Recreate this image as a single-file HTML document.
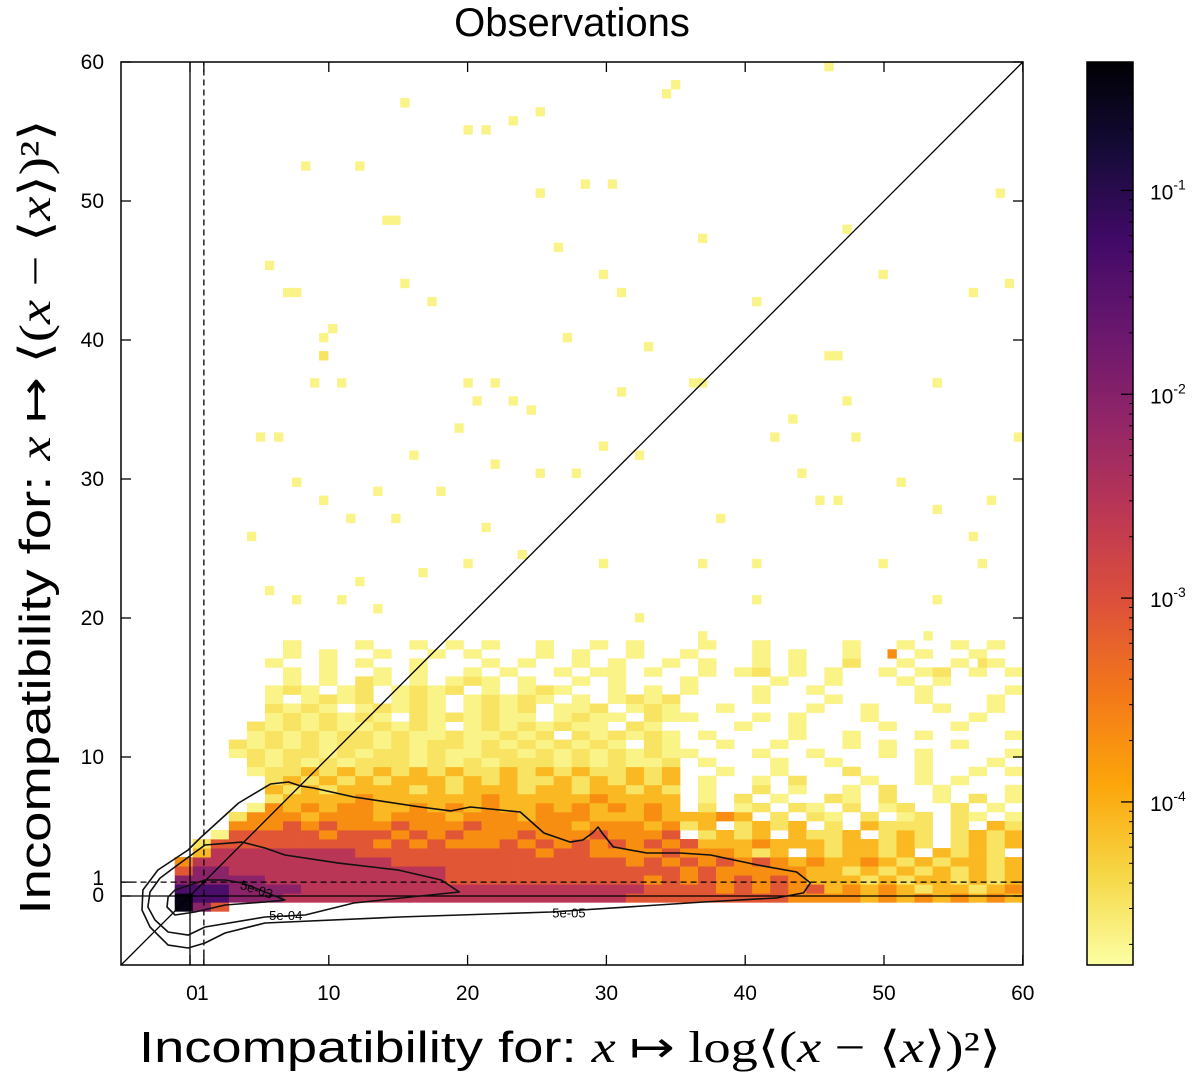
<!DOCTYPE html>
<html><head><meta charset="utf-8"><style>
html,body{margin:0;padding:0;background:#fff}
svg{display:block;font-family:"Liberation Sans",sans-serif}
</style></head><body>
<svg id="chart" width="1200" height="1078" viewBox="0 0 1200 1078" xmlns="http://www.w3.org/2000/svg">
<defs>
<linearGradient id="cbgrad" x1="0" y1="1" x2="0" y2="0"></linearGradient>
<clipPath id="plotclip"><rect x="121" y="62" width="902" height="903"/></clipPath>
</defs>
<text x="572" y="36" font-size="40" text-anchor="middle">Observations</text>
<g id="cells" clip-path="url(#plotclip)"></g>
<g id="refs" clip-path="url(#plotclip)"></g>
<g id="contours" clip-path="url(#plotclip)"></g>
<rect x="121" y="62" width="902" height="903" fill="none" stroke="#000" stroke-width="1.5"/>
<g id="ticks"></g>
<text x="570" y="1062" font-size="44" text-anchor="middle" textLength="862" lengthAdjust="spacingAndGlyphs">Incompatibility for: <tspan font-family="Liberation Serif" font-style="italic">x</tspan><tspan font-family="Liberation Serif"> ↦ log⟨(</tspan><tspan font-family="Liberation Serif" font-style="italic">x</tspan><tspan font-family="Liberation Serif"> − ⟨</tspan><tspan font-family="Liberation Serif" font-style="italic">x</tspan><tspan font-family="Liberation Serif">⟩)²⟩</tspan></text>
<text transform="translate(50,517) rotate(-90)" font-size="44" text-anchor="middle" textLength="795" lengthAdjust="spacingAndGlyphs">Incompatibility for: <tspan font-family="Liberation Serif" font-style="italic">x</tspan><tspan font-family="Liberation Serif"> ↦ ⟨(</tspan><tspan font-family="Liberation Serif" font-style="italic">x</tspan><tspan font-family="Liberation Serif"> − ⟨</tspan><tspan font-family="Liberation Serif" font-style="italic">x</tspan><tspan font-family="Liberation Serif">⟩)²⟩</tspan></text>
<rect x="1087" y="62" width="46" height="903" fill="url(#cbgrad)" stroke="#000" stroke-width="1.5"/>
<g id="cbticks"></g>
</svg>
<script>
// ---- data ----
const rowStart = 6; // first bin row index (bins of 0.65 in y starting at -5)
const densityRows = [
"...975",
"...988777666666666666666666655555555544443434343434",
"...888777766666666666666666665555454545343432332343",
"...777776666666666555555555554545454543332323323233",
"...577666666666666555555555555545444443323232323232",
"...466666666666555555555555545454545434334323233233",
"....366666666555555555545544445444323.323323.3232",
"....25555555554545444545454545453334333233232.23232",
".....15555545554545444544454445 2323.3223.232.23232",
"......444545444544454444434443423.2323.2.3222.2.32",
"......24443444344434443444333433343 2.21.2.12.21.12",
".......143434433434343343434343 2.12.21.2.12..2.1.2",
"........23333433333343333343333 1.2.1..21.2..1.2.1.",
"........32323333232333233233232.1..2.1..1.2..1...1",
"........23232323332323223232323 1..1.2...1..1.1....",
".......122323232323223232322323..1..1...2...1..1.1",
".......212121222121212221212112.1...1..1....1...1.",
"......12122121221211221212121211...1..1...1.1....1",
"......2121212212122121212121.21..1..1...1.1...1...",
".......12121221211211212.212121.1....1..1...1....1",
".......21212112121.12121211.21....1..1....1...1...",
"........1212121.2121211.1211.211...1.1...1.....1..",
"........2121.12121.1212.112.121..1....1..1...1..1.",
"........1.1212.121.12121.1.1212....1...1....1...1.",
"........121.12.1212.1.121..1.1.1...1..1.....1....1",
".........1.1.21.1.121.1..1.1...1....1..1...1.1....",
".........1.1..1.1..1.1..1.11.1..1.12.1.1..1.12.1.1",
"........1..1.1..1...1.1..1.1..1.1..1.1..2..1..1.1",
".........1.1..1..1.1...1.1..1..1...1.1..1...1..1.",
".........1...1..1.1.1..1..1.1...1..1....1..1..1.1."
];
const levelLog = [-4.67,-4.49,-4.09,-3.69,-3.1,-2.55,-2.05,-1.35,-0.5];
const ptX = [15.5,20.0,21.5,23.0,25.5,34.0,34.7,30.1,28.6,25.5,14.0,15.0,5.8,6.7,7.9,9.5,9.7,9.0,6.1,5.2,19.9,21.7,23.0,20.9,24.5,30.9,36.3,37.2,45.8,46.5,48.1,49.6,56.3,58.3,47.5,46.0,43.9,46.8,51.1,54.0,56.1,57.6,59.4,41.0,36.7,29.5,23.7,20.1,16.5,12.2,7.9,10.8,13.7,25.5,27.7,22.0,15.8,7.9,9.4,11.5,4.7,5.6,21.6,32.4,36.7,41.0,50.4,53.2,56.8,30.9,33.1,29.9,32.4,42.4,45.3,49.6,54.0,38.1,15.1,19.1,27.3,26.6,17.3,29.5,36.7,41.0,43.2,47.5,54.0,59.0,15.5,11.2,13.7,18.0,57.2,8.6,12.2,10.0];
const ptY = [57.1,55.3,55.3,55.7,56.3,57.4,58.3,51.2,51.2,50.6,48.6,48.6,45.2,43.4,43.4,40.0,38.8,36.9,32.9,32.9,37.1,37.1,35.7,35.7,34.7,36.0,37.1,37.1,38.8,38.8,32.8,45.0,43.4,50.4,48.1,59.8,30.1,28.7,29.9,27.8,25.6,28.5,32.8,24.2,24.2,24.2,24.5,23.8,23.1,22.7,21.3,21.3,20.9,30.3,30.6,31.4,31.7,29.6,28.5,27.1,25.6,22.0,26.3,19.9,18.4,21.3,17.7,18.4,17.0,43.6,39.3,32.4,31.7,32.8,28.5,24.2,21.3,27.1,27.1,33.5,40.4,46.5,42.9,45.0,47.2,42.9,34.2,35.7,37.1,44.3,44.0,37.1,29.2,29.2,24.2,52.6,52.6,40.6];
const ptLevel = [1,1,1,1,1,1,1,1,1,1,1,1,1,1,1,1,2,1,1,1,1,1,1,1,1,1,1,1,1,1,1,1,1,1,1,1,1,1,1,1,1,1,1,1,1,1,1,1,1,1,1,1,1,1,1,1,1,1,1,1,1,1,1,1,1,1,4,1,2,1,1,1,1,1,1,1,1,1,1,1,1,1,1,1,1,1,1,1,1,1,1,1,1,1,1,1,1,1];
const contourLevels = ["5e-05","5e-04","5e-03"];
const contour05X = [-0.14,-2.31,-3.39,-3.46,-2.88,-1.58,-0.14,1.08,2.52,5.40,15.1,26.0,37.0,42.3,44.2,44.7,43.7,40.9,37.5,35.3,32.9,30.5,29.7,29.4,29.0,28.3,27.4,25.5,23.8,20.2,18.8,16.6,11.8,8.9,8.0,7.1,5.8,3.5,0.8];
const contour05Y = [3.31,1.87,0.43,-1.01,-2.23,-3.53,-3.74,-3.38,-2.66,-1.94,-1.51,-1.15,-0.43,-0.14,0.22,0.94,1.73,2.23,2.95,3.09,3.09,3.53,4.53,4.96,4.53,4.03,3.88,4.53,6.04,6.40,6.12,6.40,7.12,7.77,7.91,8.20,8.06,6.69,4.24];
const contour04X = [-1.08,1.08,3.75,5.40,6.84,10.7,15.0,18.1,19.4,15.9,11.8,8.3,5.4,1.08,-0.14,-1.58,-2.52,-3.03,-2.88,-2.16];
const contour04Y = [2.09,3.67,3.88,3.45,2.95,2.37,1.87,1.15,0.29,-0.07,-0.50,-1.37,-1.51,-2.23,-2.81,-2.59,-1.73,-0.79,0.29,1.29];
const contour03X = [-1.08,1.08,2.52,3.75,5.04,6.84,5.40,2.52,0.36,-1.08,-1.66,-1.58];
const contour03Y = [0.43,1.15,1.15,0.94,0.43,-0.29,-0.43,-0.65,-1.15,-1.37,-0.79,-0.07];
const xTickVals = [0,1,10,20,30,40,50,60];
const xTickLabels = ["0","1","10","20","30","40","50","60"];
const yTickVals = [0,1,10,20,30,40,50,60];
const yTickLabels = ["0","1","10","20","30","40","50","60"];
const cbTickExp = [-1,-2,-3,-4];
const cbLogMin = -4.8, cbLogMax = -0.37;

// ---- scales ----
const NS = "http://www.w3.org/2000/svg";
const sx = x => 190 + 13.88 * x;
const sy = y => 896 - 13.9 * y;
const cbY = l => 965 - (l - cbLogMin) / (cbLogMax - cbLogMin) * 903;
const inf = [[0,0,0,4],[0.1,22,11,57],[0.2,66,10,104],[0.3,106,23,110],[0.4,147,38,103],[0.5,188,55,84],[0.6,221,81,58],[0.7,243,120,25],[0.8,252,165,10],[0.9,246,215,70],[1,252,255,164]];
function inferno(t){t=Math.max(0,Math.min(1,t));for(let i=1;i<inf.length;i++){if(t<=inf[i][0]){const a=inf[i-1],b=inf[i],f=(t-a[0])/(b[0]-a[0]);return `rgb(${Math.round(a[1]+f*(b[1]-a[1]))},${Math.round(a[2]+f*(b[2]-a[2]))},${Math.round(a[3]+f*(b[3]-a[3]))})`;}}return "rgb(252,255,164)";}
const colorForLog = l => inferno(1 - (l - cbLogMin) / (cbLogMax - cbLogMin));
function mk(tag, attrs, parent){const e=document.createElementNS(NS,tag);for(const k in attrs)e.setAttribute(k,attrs[k]);parent.appendChild(e);return e;}

const grad = document.getElementById('cbgrad');
for(let i=0;i<=20;i++){mk('stop',{offset:(i/20),'stop-color':inferno(1-i/20)},grad);}

const cells = document.getElementById('cells');
densityRows.forEach((row, r) => {
  const j = rowStart + r;
  for(let k=0;k<row.length;k++){
    const c=row[k]; if(c<'1'||c>'9') continue;
    const lv=levelLog[+c-1];
    const x0=-5+1.3*k, y0=-5+0.65*j;
    const rc=mk('rect',{x:sx(x0).toFixed(2),y:sy(y0+0.65).toFixed(2),width:(sx(x0+1.3)-sx(x0)+0.4).toFixed(2),height:(sy(y0)-sy(y0+0.65)+0.4).toFixed(2),fill:colorForLog(lv)},cells);
    
    
  }
});
ptX.forEach((x,i)=>{
  const bx=-5+0.65*Math.floor((x+5)/0.65), by=-5+0.65*Math.floor((ptY[i]+5)/0.65);
  const rc=mk('rect',{x:sx(bx).toFixed(2),y:sy(by+0.65).toFixed(2),width:(sx(bx+0.65)-sx(bx)+0.3).toFixed(2),height:(sy(by)-sy(by+0.65)+0.3).toFixed(2),fill:colorForLog(levelLog[ptLevel[i]-1])},cells);
  
  
});

const refs=document.getElementById('refs');
let ln;
ln=mk('line',{x1:sx(-5),y1:sy(-5),x2:sx(60),y2:sy(60),stroke:'#000','stroke-width':1.3},refs);


ln=mk('line',{x1:sx(0),y1:sy(-5),x2:sx(0),y2:sy(60),stroke:'#000','stroke-width':1.3},refs);


ln=mk('line',{x1:sx(1),y1:sy(-5),x2:sx(1),y2:sy(60),stroke:'#000','stroke-width':1.3,'stroke-dasharray':'6,4'},refs);


ln=mk('line',{x1:sx(-5),y1:sy(0),x2:sx(60),y2:sy(0),stroke:'#000','stroke-width':1.3},refs);


ln=mk('line',{x1:sx(-5),y1:sy(1),x2:sx(60),y2:sy(1),stroke:'#000','stroke-width':1.3,'stroke-dasharray':'6,4'},refs);



const cg=document.getElementById('contours');
[[contour05X,contour05Y],[contour04X,contour04Y],[contour03X,contour03Y]].forEach((c,i)=>{
  const d=c[0].map((x,k)=>(k?'L':'M')+sx(x).toFixed(1)+','+sy(c[1][k]).toFixed(1)).join(' ')+' Z';
  const p=mk('path',{d:d,fill:'none',stroke:'#111','stroke-width':1.6,'stroke-linejoin':'round'},cg);
  
  
});
let tl;
tl=mk('text',{x:sx(27.3),y:sy(-1.25)+4,'font-size':13,'text-anchor':'middle'},cg); tl.textContent=contourLevels[0];


tl=mk('text',{x:sx(6.9),y:sy(-1.45)+4,'font-size':13,'text-anchor':'middle'},cg); tl.textContent=contourLevels[1];


tl=mk('text',{x:0,y:0,'font-size':13,'text-anchor':'middle',transform:`translate(${sx(4.7)},${sy(0.45)+4}) rotate(18)`},cg); tl.textContent=contourLevels[2];



const tg=document.getElementById('ticks');
xTickVals.forEach((v,i)=>{
  const X=sx(v);
  let t=mk('line',{x1:X,y1:965,x2:X,y2:955,stroke:'#000','stroke-width':1.3},tg);
  
  
  t=mk('line',{x1:X,y1:62,x2:X,y2:72,stroke:'#000','stroke-width':1.3},tg);
  
  
  const lx = v===0 ? X+2 : (v===1 ? X-1 : X);
  const tx=mk('text',{x:lx,y:1000,'font-size':21,'text-anchor':'middle'},tg); tx.textContent=xTickLabels[i];
  
  
});
yTickVals.forEach((v,i)=>{
  const Y=sy(v);
  let t=mk('line',{x1:121,y1:Y,x2:131,y2:Y,stroke:'#000','stroke-width':1.3},tg);
  
  
  t=mk('line',{x1:1023,y1:Y,x2:1013,y2:Y,stroke:'#000','stroke-width':1.3},tg);
  
  
  const ly = v===0 ? Y+6 : (v===1 ? Y+3 : Y+7);
  const tx=mk('text',{x:104,y:ly,'font-size':21,'text-anchor':'end'},tg); tx.textContent=yTickLabels[i];
  
  
});

const cbt=document.getElementById('cbticks');
cbTickExp.forEach(e=>{
  const Y=cbY(e);
  let t=mk('line',{x1:1121,y1:Y,x2:1133,y2:Y,stroke:'#000','stroke-width':1.3},cbt);
  
  
  for(let m=2;m<10;m++){
    const ly=e+Math.log10(m);
    if(ly>cbLogMax) continue;
    const mt=mk('line',{x1:1129,y1:cbY(ly),x2:1133,y2:cbY(ly),stroke:'#000','stroke-width':1},cbt);
    
    
  }
  for(let m=2;m<10;m++){
    const ly=e-1+Math.log10(m);
    if(ly<cbLogMin||e!==-4) continue;
    const mt=mk('line',{x1:1129,y1:cbY(ly),x2:1133,y2:cbY(ly),stroke:'#000','stroke-width':1},cbt);
    
    
  }
  const tx=mk('text',{x:1150,y:Y+9,'font-size':21},cbt);
  tx.textContent='10';
  const sp=mk('tspan',{'font-size':14,dy:-10},tx); sp.textContent=String(e);
  
  
});
</script>
</body></html>
